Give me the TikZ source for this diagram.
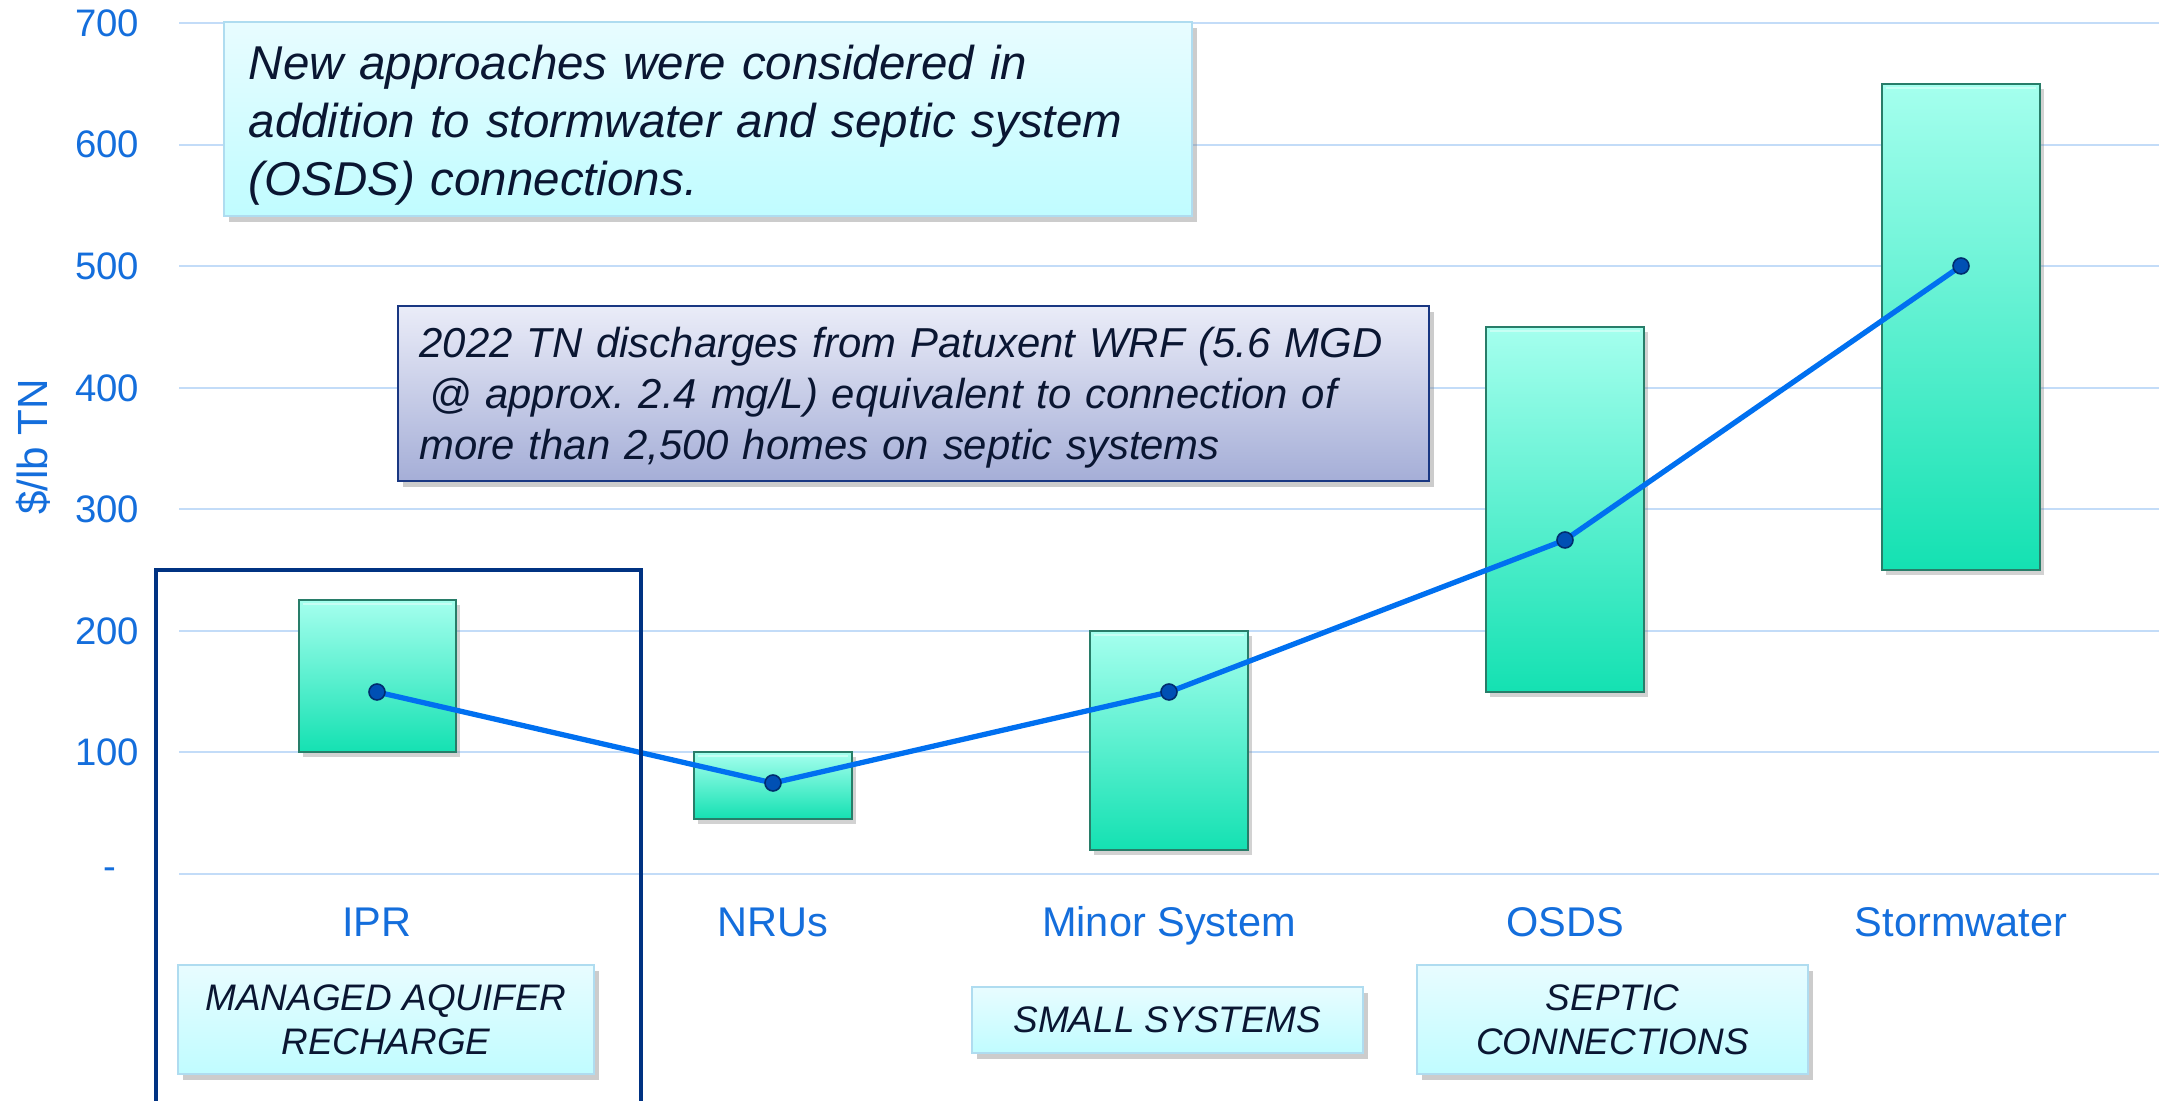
\documentclass[tikz,border=0pt]{standalone}
\usepackage{fontspec}
\setmainfont{Liberation Sans}
\usetikzlibrary{shadows}
\frenchspacing
\definecolor{axisblue}{RGB}{20,110,220}
\definecolor{gridc}{RGB}{195,220,248}
\definecolor{linec}{RGB}{0,112,240}
\definecolor{markc}{RGB}{0,80,180}
\definecolor{markd}{RGB}{0,45,110}
\definecolor{bartop}{RGB}{165,255,238}
\definecolor{barbot}{RGB}{20,225,178}
\definecolor{bardraw}{RGB}{40,125,105}
\definecolor{barhi}{RGB}{215,255,248}
\definecolor{cyantop}{RGB}{232,252,255}
\definecolor{cyanbot}{RGB}{192,252,255}
\definecolor{cyandraw}{RGB}{175,220,240}
\definecolor{lavtop}{RGB}{234,236,248}
\definecolor{lavbot}{RGB}{165,174,215}
\definecolor{navy}{RGB}{25,55,130}
\definecolor{framec}{RGB}{0,50,130}
\definecolor{txt}{RGB}{10,22,50}
\begin{document}
\begin{tikzpicture}[x=0.01cm,y=-0.01cm,
  gridline/.style={draw=gridc,line width=0.55pt},
  ticklbl/.style={anchor=east,text=axisblue,font=\fontsize{10.9}{12}\selectfont,inner sep=0pt},
  catlbl/.style={anchor=base,text=axisblue,font=\fontsize{11.8}{13}\selectfont,inner sep=0pt},
  barbox/.style={top color=bartop,bottom color=barbot,draw=bardraw,line width=0.45pt,
     drop shadow={shadow xshift=0.04cm,shadow yshift=-0.05cm,opacity=0.35}},
  barhl/.style={draw=barhi,line width=0.8pt,opacity=0.7},
  cyanbox/.style={rectangle,top color=cyantop,bottom color=cyanbot,draw=cyandraw,line width=0.6pt,
     text=txt,drop shadow={shadow xshift=0.05cm,shadow yshift=-0.06cm,opacity=0.4}},
  lavbox/.style={rectangle,top color=lavtop,bottom color=lavbot,draw=navy,line width=0.6pt,
     text=txt,drop shadow={shadow xshift=0.05cm,shadow yshift=-0.06cm,opacity=0.4}},
  notetext/.style={inner sep=0pt,align=left,text=txt},
  marker/.style={circle,fill=markc,draw=markd,line width=0.45pt,inner sep=0pt,minimum size=0.16cm},
  trend/.style={draw=linec,line width=1.5pt}
]
\useasboundingbox (0,0) rectangle (2159,1101);
\fill[white] (0,0) rectangle (2159,1101);
% grid
\foreach \v in {0,100,...,700}{
  \draw[gridline] (179,{874-\v*1.2157}) -- (2159,{874-\v*1.2157});
}
% tick labels
\node[ticklbl] (t700) at (140,23) {700};
\node[ticklbl] (t600) at (140,144) {600};
\node[ticklbl] (t500) at (140,266) {500};
\node[ticklbl] (t400) at (140,388) {400};
\node[ticklbl] (t300) at (140,509) {300};
\node[ticklbl] (t200) at (140,631) {200};
\node[ticklbl] (t100) at (140,752) {100};
\node[ticklbl] (t0) at (117,874) {-};
\node[rotate=90,text=axisblue,font=\fontsize{12}{13}\selectfont,inner sep=0pt] (ytitle) at (33,447) {\$/lb TN};
% bars
\path[barbox] (299,600) rectangle (456,752);
\path[barbox] (694,752) rectangle (852,819);
\path[barbox] (1090,631) rectangle (1248,850);
\path[barbox] (1486,327) rectangle (1644,692);
\path[barbox] (1882,84) rectangle (2040,570);
\draw[barhl] (303,604) -- (452,604);
\draw[barhl] (698,756) -- (848,756);
\draw[barhl] (1094,635) -- (1244,635);
\draw[barhl] (1490,331) -- (1640,331);
\draw[barhl] (1886,88) -- (2036,88);
% trend line
\coordinate (c1) at (377,692);
\coordinate (c2) at (773,783);
\coordinate (c3) at (1169,692);
\coordinate (c4) at (1565,540);
\coordinate (c5) at (1961,266);
\draw[trend] (c1) -- (c2) -- (c3) -- (c4) -- (c5);
\node[marker] (m1) at (c1) {};
\node[marker] (m2) at (c2) {};
\node[marker] (m3) at (c3) {};
\node[marker] (m4) at (c4) {};
\node[marker] (m5) at (c5) {};
% category labels
\node[catlbl] (ipr) at (377,937) {IPR};
\node[catlbl] (nru) at (773,937) {NRUs};
\node[catlbl] (minor) at (1169,937) {Minor System};
\node[catlbl] (osds) at (1565,937) {OSDS};
\node[catlbl] (storm) at (1961,937) {Stormwater};
% text boxes
\node[cyanbox,minimum width=9.68cm,minimum height=1.94cm] (note1) at (708,119) {};
\node[notetext,text width=9.18cm,font=\fontsize{13.5}{16.5}\selectfont\itshape] (note1txt) at (708,125)
  {New approaches were considered in\\addition to stormwater and septic system\\(OSDS) connections.};
\node[lavbox,minimum width=10.31cm,minimum height=1.75cm] (note2) at (913.5,393.5) {};
\node[notetext,text width=9.87cm,font=\fontsize{11.9}{14.5}\selectfont\itshape] (note2txt) at (913.5,397.5)
  {2022 TN discharges from Patuxent WRF (5.6 MGD\\\hphantom{i}@ approx. 2.4 mg/L) equivalent to connection of\\more than 2,500 homes on septic systems};
\node[cyanbox,minimum width=4.16cm,minimum height=1.09cm,align=center,inner sep=0pt,
  font=\fontsize{10.5}{12.5}\selectfont\itshape] (mar) at (386,1019.5)
  {MANAGED AQUIFER\\RECHARGE};
\node[cyanbox,minimum width=3.91cm,minimum height=0.66cm,align=center,inner sep=0pt,
  font=\fontsize{10.5}{12.5}\selectfont\itshape] (small) at (1167.5,1020)
  {SMALL SYSTEMS};
\node[cyanbox,minimum width=3.91cm,minimum height=1.09cm,align=center,inner sep=0pt,
  font=\fontsize{10.5}{12.5}\selectfont\itshape] (septic) at (1612.5,1019.5)
  {SEPTIC\\CONNECTIONS};
% IPR frame
\draw[framec,line width=1.2pt] (156,1110) -- (156,570) -- (641,570) -- (641,1110);
\end{tikzpicture}
\end{document}
